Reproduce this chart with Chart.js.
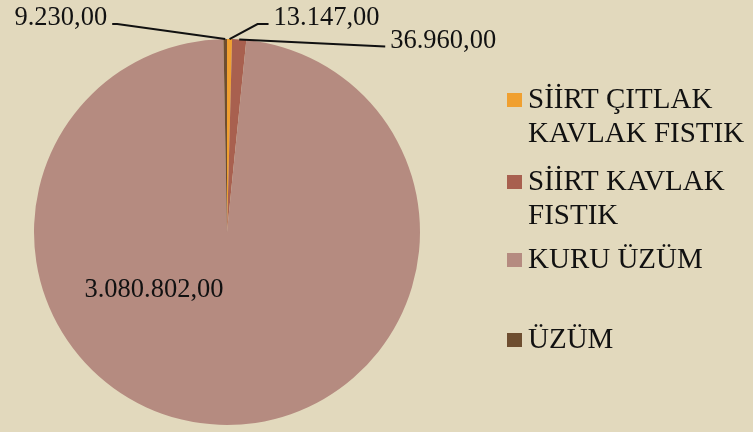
<!DOCTYPE html>
<html>
<head>
<meta charset="utf-8">
<script src="https://cdn.jsdelivr.net/npm/chart.js@4.4.0/dist/chart.umd.min.js"></script>
<style>
  html, body { margin: 0; padding: 0; }
  body { width: 753px; height: 432px; background: #e2d9bd; overflow: hidden; }
</style>
</head>
<body>
<canvas id="myChart" width="753" height="432"></canvas>
<script>
// order clockwise from 12 o'clock
var categories = ['SİİRT ÇITLAK KAVLAK FISTIK', 'SİİRT KAVLAK FISTIK', 'KURU ÜZÜM', 'ÜZÜM'];
var legendLines = [['SİİRT ÇITLAK', 'KAVLAK FISTIK'], ['SİİRT KAVLAK', 'FISTIK'], ['KURU ÜZÜM'], ['ÜZÜM']];
var values = [13147, 36960, 3080802, 9230];
var valueLabels = ['13.147,00', '36.960,00', '3.080.802,00', '9.230,00'];
var colors = ['#f0a030', '#a8604f', '#b58b80', '#6e4e30'];

var FONT = '"Liberation Serif", "Times New Roman", serif';

// legend drawn on canvas, first baseline of each item
var legendPlugin = {
	id: 'sideLegend',
	afterDraw: function(chart) {
		const ctx = chart.ctx;
		const baselines = [108, 190, 268, 348];
		ctx.save();
		ctx.font = '29px ' + FONT;
		ctx.fillStyle = '#111';
		ctx.textAlign = 'left';
		ctx.textBaseline = 'alphabetic';
		legendLines.forEach(function(lines, i) {
			var b = baselines[i];
			ctx.fillStyle = colors[i];
			ctx.fillRect(507, b - 15, 15, 14);
			ctx.fillStyle = '#111';
			lines.forEach(function(t, j) {
				ctx.fillText(t, 528, b + j * 34);
			});
		});
		ctx.restore();
	}
};

var labelPlugin = {
	id: 'pieLabels',
	afterDatasetsDraw: function(chart) {
		const ctx = chart.ctx;
		const arcs = chart.getDatasetMeta(0).data;
		ctx.save();
		ctx.font = '26.5px ' + FONT;
		ctx.fillStyle = '#111';
		ctx.strokeStyle = '#111';
		ctx.lineWidth = 2;
		ctx.textBaseline = 'alphabetic';

		function edge(arc) {
			const a = (arc.startAngle + arc.endAngle) / 2;
			return { x: arc.x + Math.cos(a) * arc.outerRadius, y: arc.y + Math.sin(a) * arc.outerRadius };
		}
		function leader(p, pts) {
			ctx.beginPath();
			ctx.moveTo(p.x, p.y);
			pts.forEach(function(q) { ctx.lineTo(p.x + q[0], p.y + q[1]); });
			ctx.stroke();
		}

		// SİİRT ÇITLAK
		var p0 = edge(arcs[0]);
		leader(p0, [[28, -15], [39, -15]]);
		ctx.textAlign = 'left';
		ctx.fillText(valueLabels[0], p0.x + 44, p0.y - 14);

		// SİİRT KAVLAK
		var p1 = edge(arcs[1]);
		leader(p1, [[146, 7]]);
		ctx.fillText(valueLabels[1], p1.x + 151, p1.y + 9);

		// ÜZÜM
		var p3 = edge(arcs[3]);
		leader(p3, [[-108, -15], [-113, -15]]);
		ctx.textAlign = 'right';
		ctx.fillText(valueLabels[3], p3.x - 118, p3.y - 14);

		// KURU ÜZÜM inside
		var a2 = arcs[2];
		ctx.textAlign = 'center';
		ctx.fillText(valueLabels[2], a2.x - 73, a2.y + 65);
		ctx.restore();
	}
};

const myChart = new Chart(document.getElementById('myChart'), {
	type: 'pie',
	data: {
		labels: categories,
		datasets: [{
			data: values,
			backgroundColor: colors,
			borderWidth: 0
		}]
	},
	plugins: [labelPlugin, legendPlugin],
	options: {
		responsive: false,
		animation: false,
		layout: { padding: { left: 34, right: 333, top: 39, bottom: 7 } },
		plugins: {
			legend: { display: false },
			tooltip: { enabled: false }
		}
	}
});
</script>
</body>
</html>
